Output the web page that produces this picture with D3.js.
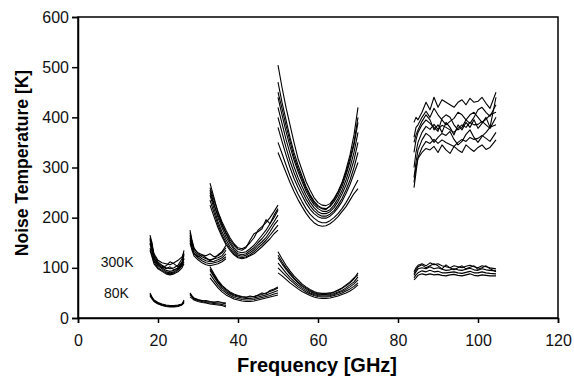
<!DOCTYPE html>
<html>
<head>
<meta charset="utf-8">
<script src="https://cdn.jsdelivr.net/npm/d3@7"></script>
<style>
  body { margin: 0; background: #fff; }
  svg { display: block; font-family: "Liberation Sans", Arial, sans-serif; }
</style>
</head>
<body>
<div class="container"></div>
<script>
// frequency points (GHz) for each waveguide band
const band1Freq = [18, 18.5, 19, 20, 21, 22, 23, 24, 25, 26, 26.5];
const band2Freq = [28, 28.5, 29, 30, 31, 32, 33, 34, 35, 36, 37];
const band3Freq = [33, 34, 35, 36, 37, 38, 39, 40, 41, 42, 43, 44, 45, 46, 47, 48, 49, 50];
const band4Freq = [50, 51, 52, 53, 54, 55, 56, 57, 58, 59, 60, 61, 62, 63, 64, 65, 66, 67, 68, 69, 70];
const band5Freq = [84, 84.5, 85, 86, 87, 88, 89, 90, 91, 92, 93, 94, 95, 96, 97, 98, 99, 100, 101, 102, 103, 104.5];

// noise temperature (K), one row per measured device, 300K ambient
const band1Hot = [
  [165, 150, 125, 112, 105, 100, 98, 100, 105, 118, 135],
  [155, 140, 120, 108, 100, 95, 93, 95, 100, 110, 125],
  [148, 132, 115, 104, 98, 92, 90, 92, 97, 106, 118],
  [140, 125, 112, 100, 95, 90, 88, 90, 95, 104, 112],
  [160, 145, 128, 115, 110, 108, 106, 110, 115, 122, 130],
  [135, 122, 108, 98, 93, 88, 86, 88, 92, 100, 108],
  [150, 138, 122, 110, 103, 98, 102, 96, 99, 108, 120],
  [158, 146, 118, 106, 100, 104, 112, 108, 102, 112, 128]
];
const band2Hot = [
  [175, 155, 140, 128, 122, 118, 116, 118, 120, 124, 135],
  [165, 148, 135, 124, 118, 114, 112, 113, 116, 120, 128],
  [160, 142, 128, 120, 114, 110, 108, 110, 112, 116, 122],
  [150, 135, 124, 116, 110, 106, 104, 106, 108, 112, 118],
  [170, 152, 138, 130, 126, 124, 128, 122, 124, 130, 140],
  [155, 140, 130, 122, 126, 120, 114, 118, 126, 132, 145]
];
const band3Hot = [
  [269, 240, 210, 188, 168, 152, 140, 132, 130, 132, 138, 145, 155, 165, 175, 188, 200, 215],
  [255, 228, 200, 180, 162, 148, 136, 128, 126, 128, 134, 140, 150, 158, 168, 180, 192, 205],
  [245, 218, 192, 172, 156, 142, 132, 125, 123, 125, 130, 136, 145, 152, 160, 172, 185, 195],
  [235, 210, 186, 166, 150, 138, 128, 122, 120, 122, 126, 132, 140, 147, 155, 165, 175, 185],
  [225, 202, 180, 162, 146, 135, 126, 120, 118, 120, 124, 128, 135, 142, 150, 158, 168, 175],
  [260, 235, 212, 192, 175, 160, 148, 140, 138, 142, 150, 160, 175, 182, 190, 200, 212, 225],
  [250, 225, 205, 185, 170, 156, 145, 137, 135, 140, 155, 168, 172, 178, 196, 188, 205, 218]
];
const band4Hot = [
  [504, 460, 420, 385, 350, 318, 295, 272, 255, 240, 230, 225, 224, 228, 238, 252, 270, 295, 325, 365, 420],
  [470, 430, 395, 360, 330, 305, 283, 262, 246, 233, 224, 219, 218, 222, 232, 245, 262, 285, 312, 345, 390],
  [440, 405, 372, 342, 315, 292, 272, 253, 238, 226, 218, 213, 212, 216, 225, 238, 254, 275, 300, 330, 370],
  [420, 388, 356, 328, 302, 280, 262, 245, 231, 220, 212, 208, 208, 212, 220, 232, 247, 265, 288, 315, 350],
  [400, 370, 340, 313, 290, 270, 253, 237, 224, 214, 207, 203, 203, 207, 214, 225, 238, 255, 275, 300, 330],
  [380, 352, 325, 300, 278, 260, 244, 229, 217, 208, 202, 199, 199, 203, 210, 220, 232, 248, 266, 288, 310],
  [350, 328, 305, 283, 264, 247, 232, 218, 207, 199, 193, 190, 190, 194, 200, 208, 218, 230, 244, 260, 275],
  [330, 310, 290, 270, 252, 236, 222, 209, 198, 190, 185, 183, 184, 188, 194, 202, 212, 222, 235, 248, 258],
  [450, 418, 384, 352, 322, 298, 278, 258, 243, 230, 222, 218, 216, 224, 236, 250, 268, 290, 318, 350, 400]
];
const band5Hot = [
  [390, 400, 395, 410, 430, 415, 440, 420, 435, 430, 425, 420, 430, 435, 425, 438, 430, 432, 440, 428, 418, 450],
  [360, 380, 385, 400, 412, 400, 418, 405, 395, 385, 392, 398, 410, 405, 395, 388, 400, 415, 420, 410, 402, 425],
  [330, 355, 370, 385, 395, 388, 380, 372, 398, 405, 400, 385, 375, 380, 395, 405, 410, 400, 390, 396, 405, 410],
  [300, 330, 350, 370, 382, 376, 386, 376, 384, 380, 375, 370, 378, 385, 380, 390, 385, 386, 392, 385, 378, 400],
  [280, 310, 335, 355, 368, 362, 350, 360, 368, 364, 372, 356, 345, 352, 366, 375, 360, 350, 362, 370, 380, 385],
  [260, 290, 320, 340, 352, 348, 356, 348, 355, 350, 346, 342, 350, 356, 352, 360, 356, 358, 364, 358, 352, 370],
  [270, 300, 318, 330, 338, 335, 342, 330, 345, 335, 328, 342, 335, 330, 345, 338, 332, 340, 345, 336, 340, 355],
  [350, 365, 375, 392, 405, 395, 375, 385, 370, 390, 380, 365, 385, 375, 390, 380, 395, 378, 388, 400, 380, 440]
];

// same devices cooled to 80K
const band1Cold = [
  [50, 42, 36, 31, 28, 26, 25, 25, 26, 28, 34],
  [46, 40, 34, 29, 26, 24, 23, 23, 24, 27, 32],
  [44, 38, 33, 28, 25, 23, 22, 22, 23, 26, 30],
  [48, 41, 35, 30, 27, 25, 24, 24, 25, 27, 36]
];
const band2Cold = [
  [50, 44, 40, 37, 35, 33, 32, 31, 30, 30, 28],
  [46, 42, 38, 35, 33, 31, 30, 29, 28, 27, 25],
  [42, 39, 36, 33, 31, 30, 28, 27, 26, 25, 22],
  [48, 43, 39, 36, 34, 35, 33, 32, 33, 31, 30]
];
const band3Cold = [
  [102, 88, 75, 65, 58, 52, 48, 45, 43, 42, 42, 43, 45, 47, 50, 53, 56, 60],
  [95, 82, 70, 60, 53, 48, 44, 42, 40, 39, 39, 40, 42, 44, 46, 49, 52, 55],
  [88, 76, 65, 56, 50, 45, 41, 39, 37, 36, 36, 37, 39, 41, 43, 45, 48, 50],
  [80, 70, 60, 52, 46, 42, 38, 36, 34, 33, 33, 34, 36, 38, 40, 42, 44, 46],
  [98, 85, 72, 63, 56, 50, 46, 44, 42, 41, 44, 42, 46, 50, 48, 55, 58, 62]
];
const band4Cold = [
  [132, 118, 105, 94, 84, 76, 68, 62, 57, 53, 50, 49, 49, 50, 52, 55, 59, 64, 70, 78, 90],
  [120, 108, 97, 87, 78, 70, 63, 58, 53, 49, 47, 46, 46, 47, 49, 52, 55, 60, 66, 72, 82],
  [110, 100, 90, 81, 73, 66, 60, 55, 50, 47, 45, 44, 44, 45, 47, 50, 53, 57, 62, 68, 76],
  [100, 92, 84, 76, 69, 62, 57, 52, 48, 45, 43, 42, 42, 43, 45, 47, 50, 54, 58, 63, 70],
  [90, 84, 77, 70, 64, 58, 53, 49, 45, 42, 40, 39, 39, 40, 42, 44, 47, 50, 54, 59, 66],
  [125, 112, 100, 90, 80, 72, 65, 60, 55, 51, 48, 47, 47, 49, 52, 56, 60, 66, 72, 80, 86]
];
const band5Cold = [
  [92, 100, 105, 108, 104, 110, 106, 108, 104, 102, 100, 104, 102, 100, 103, 105, 102, 100, 104, 102, 100, 98],
  [85, 92, 98, 100, 98, 102, 98, 100, 97, 95, 96, 98, 96, 95, 97, 99, 96, 95, 98, 96, 95, 94],
  [80, 86, 90, 94, 92, 95, 92, 93, 90, 90, 91, 92, 90, 89, 91, 93, 90, 90, 92, 90, 89, 88],
  [76, 80, 85, 88, 86, 88, 86, 87, 85, 84, 86, 87, 85, 84, 86, 88, 85, 84, 86, 85, 84, 84],
  [88, 96, 102, 106, 100, 104, 108, 104, 98, 106, 100, 96, 100, 104, 98, 101, 104, 97, 100, 104, 98, 92]
];

const xTicks = [0, 20, 40, 60, 80, 100, 120];
const yTicks = [0, 100, 200, 300, 400, 500, 600];
const curveLabels = [{ text: '300K', f: 5.7, t: 102 }, { text: '80K', f: 6.5, t: 40 }];

const bands = [
  [band1Freq, band1Hot], [band2Freq, band2Hot], [band3Freq, band3Hot],
  [band4Freq, band4Hot], [band5Freq, band5Hot],
  [band1Freq, band1Cold], [band2Freq, band2Cold], [band3Freq, band3Cold],
  [band4Freq, band4Cold], [band5Freq, band5Cold]
];

const renderChart = () => {
  const width = 574;
  const height = 378;
  const left = 78, right = 558, top = 17, bottom = 318;

  const svg = d3.select('.container').append('svg').attr('width', width).attr('height', height);

  const x = d3.scaleLinear().domain([0, 120]).range([left, right]);
  const y = d3.scaleLinear().domain([0, 600]).range([bottom, top]);

  // frame
  svg.append('rect')
    .attr('x', left).attr('y', top)
    .attr('width', right - left).attr('height', bottom - top)
    .attr('fill', 'none').attr('stroke', '#000').attr('stroke-width', 1.5);

  const xAxis = d3.axisBottom(x).tickValues(xTicks).tickSize(5).tickPadding(12).tickFormat(d3.format('d'));
  const xg = svg.append('g').attr('transform', `translate(0,${bottom})`).call(xAxis);
  const yAxis = d3.axisLeft(y).tickValues(yTicks).tickSize(6).tickPadding(3).tickFormat(d3.format('d'));
  const yg = svg.append('g').attr('transform', `translate(${left},0)`).call(yAxis);

  [xg, yg].forEach(g => {
    g.select('.domain').attr('stroke-width', 1.5);
    g.selectAll('.tick line').attr('stroke-width', 1.5);
    g.selectAll('.tick text').attr('font-size', 16).attr('font-family', '"Liberation Sans", Arial, sans-serif').attr('fill', '#111');
  });

  const line = d3.line().x(d => x(d[0])).y(d => y(d[1]));
  const curves = svg.append('g').attr('class', 'curves');
  bands.forEach(([freq, rows]) => {
    rows.forEach(row => {
      curves.append('path')
        .attr('d', line(freq.map((f, i) => [f, row[i]])))
        .attr('fill', 'none')
        .attr('stroke', '#000')
        .attr('stroke-width', 1.1)
        .attr('stroke-linejoin', 'round');
    });
  });

  svg.selectAll('.curve-label').data(curveLabels).enter().append('text')
    .attr('class', 'curve-label')
    .attr('x', d => x(d.f))
    .attr('y', d => y(d.t))
    .attr('font-size', 14)
    .attr('fill', '#111')
    .text(d => d.text);

  svg.append('text')
    .text('Frequency [GHz]')
    .attr('x', 317)
    .attr('y', 372)
    .attr('text-anchor', 'middle')
    .attr('font-size', 20)
    .attr('font-weight', 'bold');

  svg.append('text')
    .text('Noise Temperature [K]')
    .attr('transform', 'translate(28,163) rotate(-90)')
    .attr('text-anchor', 'middle')
    .attr('font-size', 17.5)
    .attr('font-weight', 'bold');
};

renderChart();
</script>
</body>
</html>
